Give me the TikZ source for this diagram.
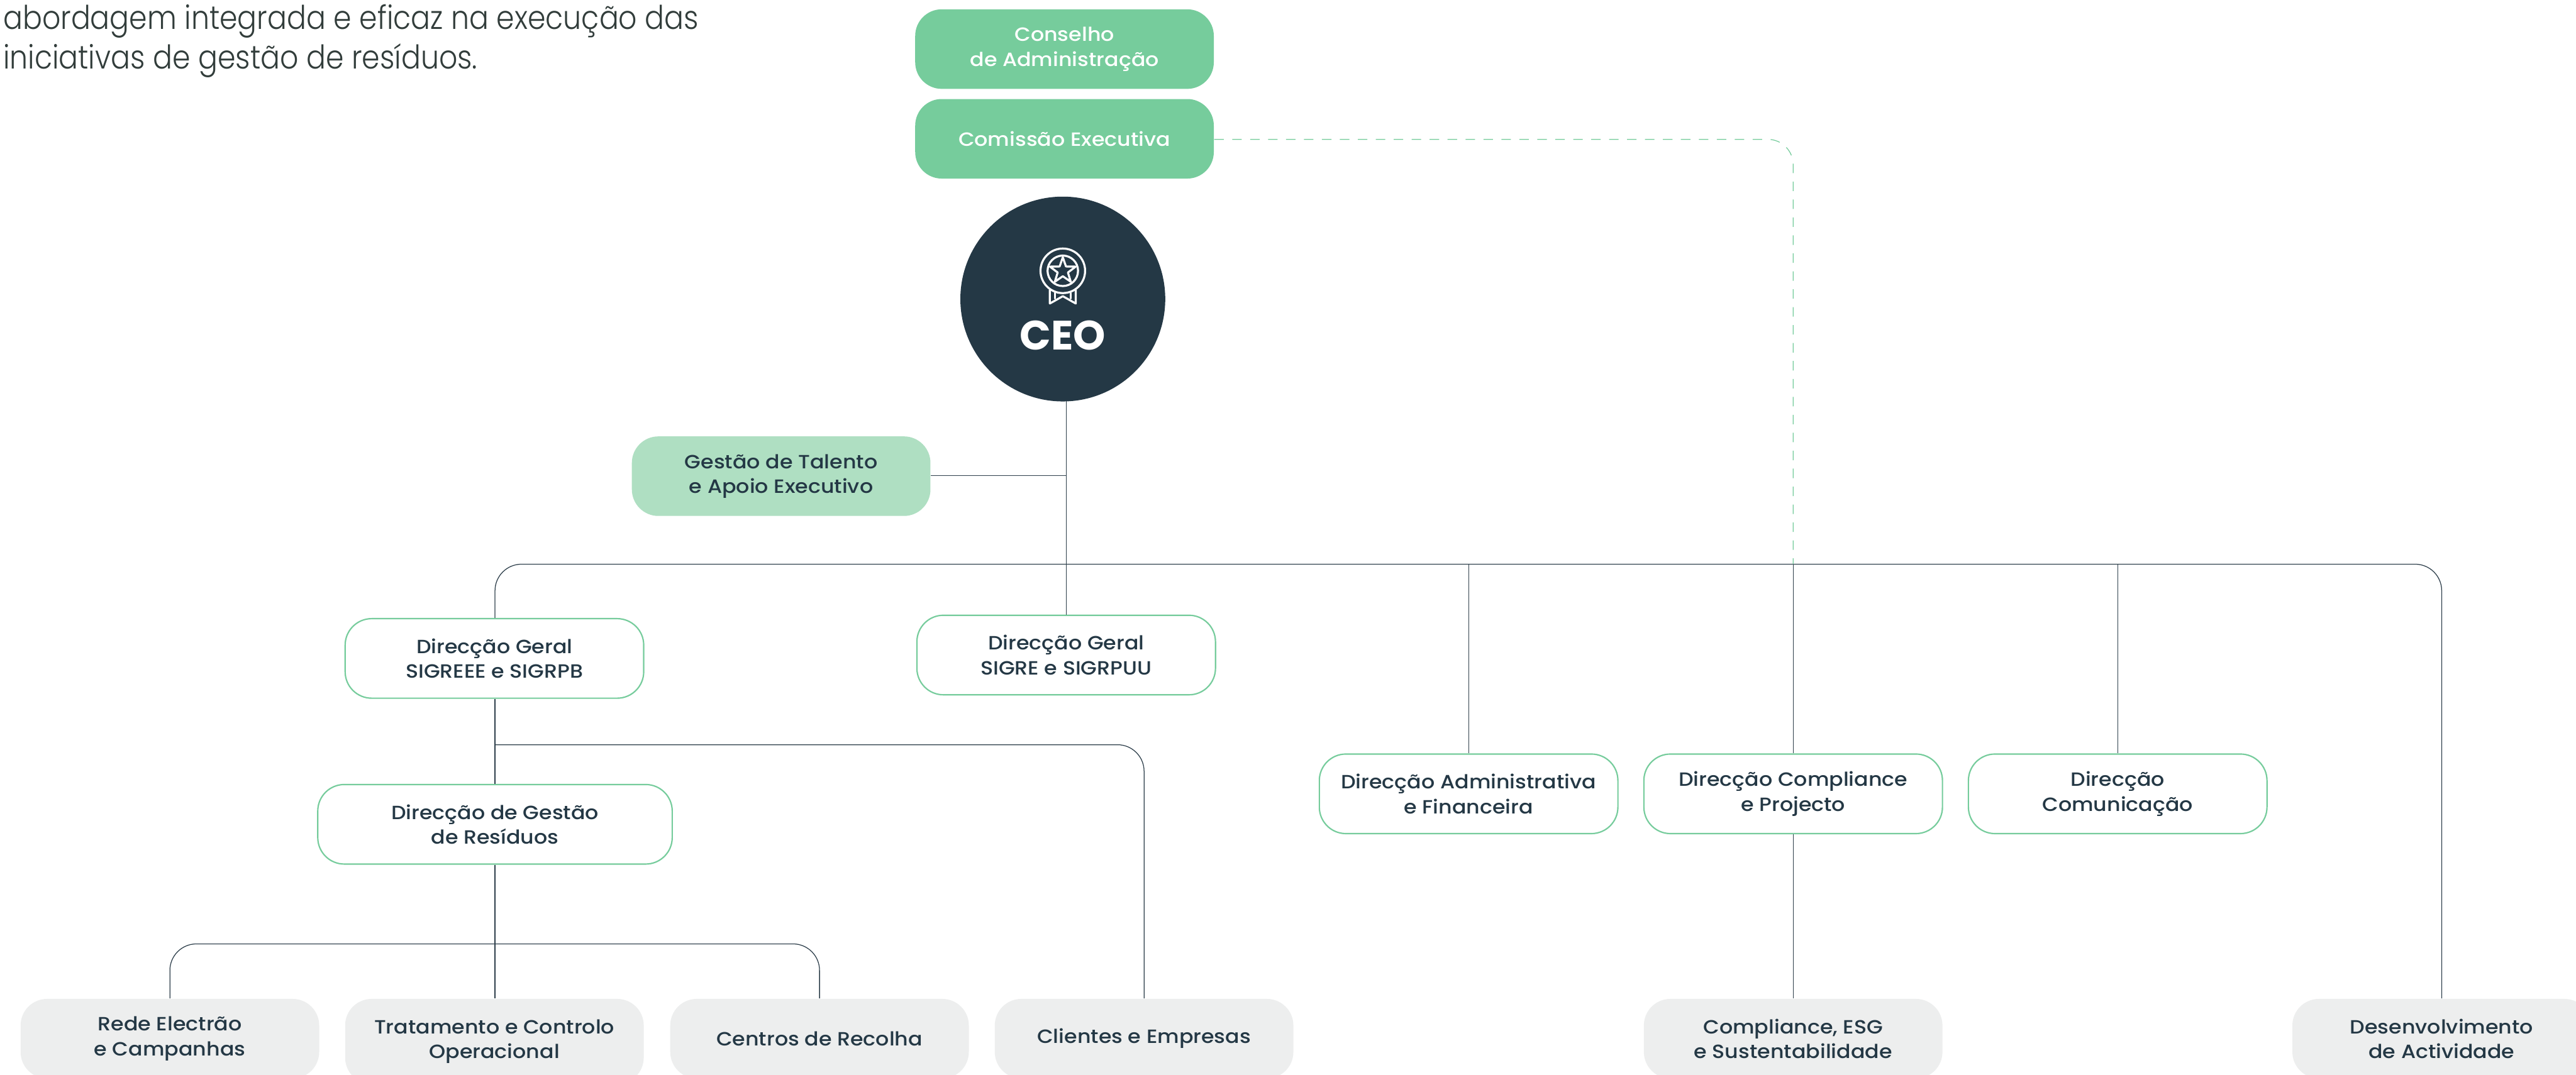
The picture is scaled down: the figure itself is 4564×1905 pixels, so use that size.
\documentclass[tikz,border=0pt]{standalone}
\usepackage{fontspec}
\setmainfont{Poppins}
\newfontfamily\widem[FakeStretch=1.09]{Poppins Medium}
\newfontfamily\introfont[FakeStretch=0.88]{Poppins Light}
\definecolor{grn}{HTML}{76CC9C}
\definecolor{lgrn}{HTML}{AFDFC2}
\definecolor{navy}{HTML}{243845}
\definecolor{lgray}{HTML}{EDEEEE}
\definecolor{ln}{HTML}{2E3F4B}
\definecolor{intro}{HTML}{323D3B}
\tikzset{
 x=0.25pt,y=-0.25pt,
 boxbase/.style={rounded corners=11.75pt,minimum width=132.25pt,minimum height=35.25pt,inner sep=0pt,align=center,font=\widem\fontsize{8.5}{11}\selectfont,text=navy},
 topbox/.style={boxbase,fill=grn,text=white},
 sidebox/.style={boxbase,fill=lgrn},
 linebox/.style={boxbase,draw=grn,line width=0.6pt,fill=white},
 graybox/.style={boxbase,fill=lgray},
 conn/.style={draw=ln,line width=0.35pt,rounded corners=11.75pt},
 straight/.style={draw=ln,line width=0.35pt},
 dashconn/.style={draw=grn,line width=0.35pt,rounded corners=11.25pt,dash pattern=on 4.2pt off 3.75pt},
 icon/.style={draw=white,line width=0.9pt,line join=round,line cap=round},
 introtext/.style={anchor=base west,inner sep=0pt,align=left,font=\introfont\fontsize{14.5}{17.5}\selectfont,text=intro},
}
\begin{document}
\begin{tikzpicture}
\useasboundingbox[fill=white] (0,0) rectangle (4564,1905);
\begin{scope}
\clip (0,0) rectangle (4564,1905);
\node[topbox] (cons) at (1886,87) {Conselho\\de Administração};
\node[topbox] (com) at (1886,246) {Comissão Executiva};
\node[circle,fill=navy,minimum size=90.75pt,inner sep=0pt] (ceo) at (1883,530) {};
\node[font=\fontsize{18.2}{20}\selectfont\bfseries,text=white,inner sep=0pt] (ceot) at (1883,594) {CEO};
\node[sidebox] (tal) at (1384,844) {Gestão de Talento\\e Apoio Executivo};
\node[linebox] (dg1) at (876,1167) {Direcção Geral\\SIGREEE e SIGRPB};
\node[linebox] (dg2) at (1889,1161) {Direcção Geral\\SIGRE e SIGRPUU};
\node[linebox,minimum width=157pt] (res) at (877,1461) {Direcção de Gestão\\de Resíduos};
\node[linebox] (adm) at (2602,1407) {Direcção Administrativa\\e Financeira};
\node[linebox] (cpl) at (3177,1407) {Direcção Compliance\\e Projecto};
\node[linebox] (cmn) at (3752,1407) {Direcção\\Comunicação};
\node[graybox] (rede) at (301,1841) {Rede Electrão\\e Campanhas};
\node[graybox,minimum height=37.75pt] (trat) at (876,1846) {Tratamento e Controlo\\Operacional};
\node[graybox] (cent) at (1452,1841) {Centros de Recolha};
\node[graybox] (clie) at (2027,1841) {Clientes e Empresas};
\node[graybox] (esg) at (3177,1841) {Compliance, ESG\\e Sustentabilidade};
\node[graybox] (des) at (4326,1841) {Desenvolvimento\\de Actividade};
\node[introtext] (txt) at (5,52) {abordagem integrada e eficaz na execução das};
\node[introtext] (txtb) at (5,122) {iniciativas de gestão de resíduos.};
\coordinate (busR) at (4326,1000);
\coordinate (busL) at (877,1000);
\coordinate (talj) at (1889,843);
\coordinate (br2) at (877,1320);
\coordinate (br3) at (877,1673);
\coordinate (dashc) at (3177,247);
\coordinate (ceob) at (1889,711);
\draw[straight] (ceob) -- (dg2.north);
\draw[straight] (tal.east |- talj) -- (talj);
\draw[conn] (dg1.north -| busL) -- (busL) -- (busR) -- (des.north -| busR);
\draw[straight] (adm.north |- busR) -- (adm.north);
\draw[straight] (cpl.north |- busR) -- (cpl.north);
\draw[straight] (cmn.north |- busR) -- (cmn.north);
\draw[straight] (cpl.south) -- (esg.north);
\draw[straight] (dg1.south -| br2) -- (res.north -| br2);
\draw[conn] (br2) -- (clie.north |- br2) -- (clie.north);
\draw[straight] (res.south -| br3) -- (trat.north -| br3);
\draw[conn] (rede.north) -- (rede.north |- br3) -- (cent.north |- br3) -- (cent.north);
\draw[dashconn] (com.east |- dashc) -- (dashc) -- (cpl.north |- busR);
% rosette
\begin{scope}[shift={(1883,480)}]
\draw[icon] (0,0) circle[radius=39.5];
\draw[icon] (0,0) circle[radius=27];
\draw[icon] (0,-24) -- (5.6,-7.7) -- (22.8,-7.4) -- (9.1,3) -- (14.1,19.4) -- (0,9.6) -- (-14.1,19.4) -- (-9.1,3) -- (-22.8,-7.4) -- (-5.6,-7.7) -- cycle;
\draw[icon] (-23,34) -- (-23,58) -- (0,45) -- (23,58) -- (23,34);
\draw[icon] (-14,39) -- (-14,49);
\draw[icon] (14,39) -- (14,49);
\end{scope}
\end{scope}
\end{tikzpicture}
\end{document}
